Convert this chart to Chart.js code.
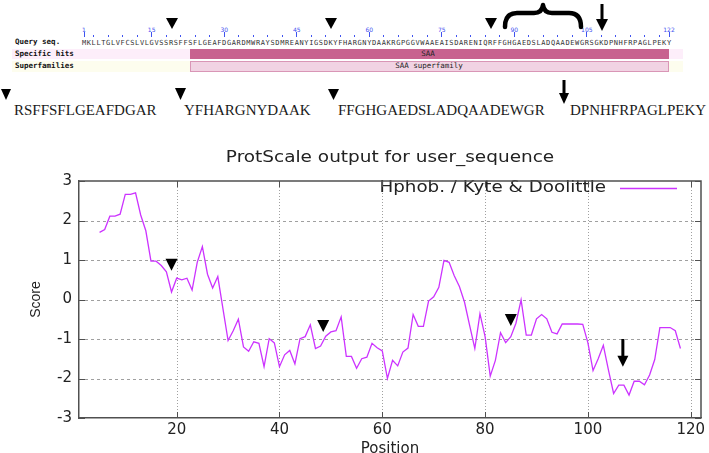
<!DOCTYPE html>
<html>
<head>
<meta charset="utf-8">
<script src="https://cdn.jsdelivr.net/npm/chart.js@4.4.1/dist/chart.umd.min.js"></script>
<style>
  html, body { margin: 0; padding: 0; background: #fff; }
  body { width: 709px; height: 453px; overflow: hidden; position: relative; }
  .abs { position: absolute; white-space: pre; }
  .rowlbl { font: bold 7.5px "DejaVu Sans Mono", monospace; color: #111; line-height: 10px; }
  .res { font: 7px "DejaVu Sans Mono", monospace; color: #333; width: 6px; text-align: center; line-height: 8px; }
  .rnum { font: 6px "DejaVu Sans", sans-serif; color: #3f52f0; width: 20px; text-align: center; line-height: 7px; }
  .rtick { background: #3f52f0; width: 1px; }
  .hitlbl { font: 7.5px "DejaVu Sans Mono", monospace; color: #222; line-height: 10px; text-align: center; }
  .pep { font: 15px "Liberation Serif", "Times New Roman", serif; color: #1a1a1a; line-height: 16px; }
  #chartBox { position: absolute; left: 0; top: 140px; width: 709px; height: 318px; }
</style>
</head>
<body>
<div id="cdd"></div>
<svg class="abs" width="709" height="140" style="left:0;top:0">
  <!-- arrows over the conserved-domain graphic -->
  <polygon points="166,18 178,18 172,29" fill="#000"/>
  <polygon points="325,18 337,18 331,29" fill="#000"/>
  <polygon points="485,18 497,18 491,29" fill="#000"/>
  <path d="M505,27 Q505,13 517,13 L534,13 Q542,13 543,5 Q544,13 552,13 L569,13 Q581,13 581,27"
        fill="none" stroke="#000" stroke-width="4.5" stroke-linecap="round" stroke-linejoin="round"/>
  <rect x="600.5" y="4" width="3" height="17" fill="#000"/>
  <polygon points="596,19 608,19 602,31" fill="#000"/>
  <!-- arrows over the peptide list -->
  <polygon points="1,89 11,89 6,100" fill="#000"/>
  <polygon points="175,88 186,88 180.5,100" fill="#000"/>
  <polygon points="328,89 339,89 333.5,100" fill="#000"/>
  <rect x="562.5" y="80" width="3" height="15" fill="#000"/>
  <polygon points="559,93 569,93 564,104" fill="#000"/>
</svg>
<div id="peptides"></div>
<div id="chartBox"><canvas id="protChart"></canvas></div>
<script>
// query sequence shown in the domain graphic
const querySequence = "MKLLTGLVFCSLVLGVSSRSFFSFLGEAFDGARDMWRAYSDMREANYIGSDKYFHARGNYDAAKRGPGGVWAAEAISDARENIQRFFGHGAEDSLADQAADEWGRSGKDPNHFRPAGLPEKY";
const rulerLabels = [1, 15, 30, 45, 60, 75, 90, 105, 122];
const hitRows = ["Specific hits", "Superfamilies"];
const domainNames = ["SAA", "SAA superfamily"];
const peptides = ["RSFFSFLGEAFDGAR", "YFHARGNYDAAK", "FFGHGAEDSLADQAADEWGR", "DPNHFRPAGLPEKY"];

// ProtScale Kyte & Doolittle scores, window 9, first point at position 5
const firstPosition = 5;
const hydropathy = [
   1.70,  1.77,  2.11,  2.11,  2.16,  2.66,  2.66,  2.70,  2.14,  1.74,
   0.97,  0.97,  0.86,  0.70,  0.19,  0.54,  0.50,  0.54,  0.24,  0.94,
   1.34,  0.64,  0.29,  0.58, -0.23, -1.04, -0.79, -0.50, -1.20, -1.31,
  -1.07, -1.11, -1.70, -0.99, -1.10, -1.70, -1.40, -1.29, -1.63, -0.99,
  -0.94, -0.64, -1.24, -1.18, -0.93, -0.82, -0.79, -0.44, -1.44, -1.44,
  -1.74, -1.50, -1.46, -1.11, -1.22, -1.30, -2.00, -1.54, -1.68, -1.33,
  -1.23, -0.38, -0.68, -0.68, -0.04,  0.07,  0.31,  0.99,  0.94,  0.60,
   0.33, -0.07, -0.66, -1.24, -0.36, -0.94, -1.94, -1.54, -0.84, -1.09,
  -0.94, -0.60, -0.01, -0.90, -0.90, -0.49, -0.38, -0.49, -0.83, -0.87,
  -0.62, -0.62, -0.62, -0.62, -0.63, -1.10, -1.80, -1.50, -1.16, -1.79,
  -2.38, -2.17, -2.17, -2.42, -2.07, -2.07, -2.16, -1.91, -1.52, -0.71,
  -0.71, -0.71, -0.79, -1.24
];
const xTicks = [20, 40, 60, 80, 100, 120];
const yTicks = [-3, -2, -1, 0, 1, 2, 3];
const seriesLabel = "Hphob. / Kyte & Doolittle";
const chartTitle = "ProtScale output for user_sequence";
// cleavage-site arrows drawn on the plot (data coordinates)
const plotMarkers = [
  { x: 19, y: 0.88, kind: "head" },
  { x: 48.5, y: -0.67, kind: "head" },
  { x: 85, y: -0.52, kind: "head" },
  { x: 106.8, y: -1.0, to: -1.7, kind: "arrow" }
];

// ---------- domain graphic (html) ----------
const cdd = document.getElementById("cdd");
const resX = p => 84 + (p - 1) * 4.835;

function addDiv(cls, text, style) {
  const d = document.createElement("div");
  d.className = "abs " + cls;
  d.textContent = text;
  Object.assign(d.style, style);
  cdd.appendChild(d);
  return d;
}

// row backgrounds and domain bars
addDiv("", "", { left: "12px", top: "49px", width: "671px", height: "10px", background: "#fdeefa" });
addDiv("", "", { left: "12px", top: "61px", width: "671px", height: "11px", background: "#fdfdee" });
addDiv("", "", { left: "190px", top: "49px", width: "479px", height: "10px", background: "#c8628f" });
addDiv("", "", { left: "190px", top: "61px", width: "479px", height: "11px", background: "#f1d3e3",
                 border: "1px solid #d996b6", boxSizing: "border-box" });
addDiv("hitlbl", domainNames[0], { left: "328px", top: "49px", width: "200px" });
addDiv("hitlbl", domainNames[1], { left: "329px", top: "61px", width: "200px" });

addDiv("rowlbl", "Query seq.", { left: "15px", top: "37px" });
hitRows.forEach((t, i) => addDiv("rowlbl", t, { left: "15px", top: (i ? 61 : 49) + "px" }));

// ruler
for (let p = 1; p <= querySequence.length; p++) {
  const labelled = rulerLabels.includes(p);
  if (labelled || p % 3 === 0) {
    addDiv("rtick", "", { left: (resX(p) - 0.5) + "px", top: (labelled ? 32 : 35) + "px", height: (labelled ? 5 : 2) + "px" });
  }
}
rulerLabels.forEach(p => addDiv("rnum", String(p), { left: (resX(p) - 10) + "px", top: "26px" }));

// sequence letters
querySequence.split("").forEach((c, i) => addDiv("res", c, { left: (resX(i + 1) - 3) + "px", top: "39px" }));

// ---------- peptide list ----------
const pepBox = document.getElementById("peptides");
const pepLeft = [14, 184, 338, 570];
peptides.forEach((t, i) => {
  const s = document.createElement("div");
  s.className = "abs pep";
  s.textContent = t;
  s.style.left = pepLeft[i] + "px";
  s.style.top = "102px";
  pepBox.appendChild(s);
});

// ---------- ProtScale chart ----------
const tickFont = { family: "DejaVu Sans", size: 15 };
const frameColor = "#505050";

function wideText(ctx, text, x, y, align, stretch) {
  ctx.save();
  ctx.translate(x, y);
  ctx.scale(stretch, 1);
  ctx.textAlign = align;
  ctx.textBaseline = "middle";
  ctx.fillText(text, 0, 0);
  ctx.restore();
}

// gnuplot style grid: dotted verticals, dashed horizontals
function drawGrid(chart) {
  const { ctx, chartArea: a, scales: { x, y } } = chart;
  ctx.save();
  ctx.strokeStyle = "#a0a0a0";
  ctx.lineWidth = 1;
  ctx.setLineDash([1, 2]);
  xTicks.forEach(v => {
    const px = Math.round(x.getPixelForValue(v)) + 0.5;
    ctx.beginPath(); ctx.moveTo(px, a.top); ctx.lineTo(px, a.bottom); ctx.stroke();
  });
  ctx.setLineDash([3, 3]);
  yTicks.slice(1, -1).forEach(v => {
    const py = Math.round(y.getPixelForValue(v)) + 0.5;
    ctx.beginPath(); ctx.moveTo(a.left, py); ctx.lineTo(a.right, py); ctx.stroke();
  });
  ctx.restore();
}

// top and right edges plus inward ticks on every side
function drawEdges(chart) {
  const { ctx, chartArea: a, scales: { x, y } } = chart;
  ctx.save();
  ctx.strokeStyle = frameColor;
  ctx.lineWidth = 1.5;
  ctx.beginPath();
  ctx.moveTo(a.left, a.top);
  ctx.lineTo(a.right, a.top);
  ctx.lineTo(a.right, a.bottom);
  ctx.stroke();
  ctx.lineWidth = 1;
  xTicks.forEach(v => {
    const px = Math.round(x.getPixelForValue(v)) + 0.5;
    ctx.beginPath(); ctx.moveTo(px, a.top); ctx.lineTo(px, a.top + 6); ctx.stroke();
    ctx.beginPath(); ctx.moveTo(px, a.bottom); ctx.lineTo(px, a.bottom - 6); ctx.stroke();
  });
  yTicks.forEach(v => {
    const py = Math.round(y.getPixelForValue(v)) + 0.5;
    ctx.beginPath(); ctx.moveTo(a.right, py); ctx.lineTo(a.right - 6, py); ctx.stroke();
    ctx.beginPath(); ctx.moveTo(a.left, py); ctx.lineTo(a.left + 6, py); ctx.stroke();
  });
  ctx.restore();
}

function drawMarkers(chart) {
  const { ctx, scales: { x, y } } = chart;
  ctx.save();
  ctx.fillStyle = "#000";
  plotMarkers.forEach(m => {
    const px = x.getPixelForValue(m.x);
    if (m.kind === "head") {
      const py = y.getPixelForValue(m.y);
      ctx.beginPath();
      ctx.moveTo(px - 6, py - 6);
      ctx.lineTo(px + 6, py - 6);
      ctx.lineTo(px, py + 6);
      ctx.closePath();
      ctx.fill();
    } else {
      const y1 = y.getPixelForValue(m.y);
      const y2 = y.getPixelForValue(m.to);
      ctx.fillRect(px - 1.5, y1, 3, y2 - y1 - 9);
      ctx.beginPath();
      ctx.moveTo(px - 5.5, y2 - 11);
      ctx.lineTo(px + 5.5, y2 - 11);
      ctx.lineTo(px, y2);
      ctx.closePath();
      ctx.fill();
    }
  });
  ctx.restore();
}

function drawTitleAndKey(chart) {
  const { ctx, chartArea: a } = chart;
  const ds = chart.data.datasets[0];
  ctx.save();
  ctx.font = "15px 'DejaVu Sans'";
  ctx.fillStyle = "#222";
  wideText(ctx, chartTitle, (a.left + a.right) / 2, 18, "center", 1.23);
  const yk = a.top + 7;
  wideText(ctx, ds.label, a.right - 95, yk, "right", 1.22);
  ctx.strokeStyle = ds.borderColor;
  ctx.lineWidth = 1.3;
  ctx.beginPath();
  ctx.moveTo(a.right - 81, yk + 0.5);
  ctx.lineTo(a.right - 24, yk + 0.5);
  ctx.stroke();
  ctx.restore();
}

const decorPlugin = {
  id: "protDecor",
  beforeDatasetsDraw(chart) { drawGrid(chart); },
  afterDatasetsDraw(chart) { drawMarkers(chart); },
  afterDraw(chart) { drawTitleAndKey(chart); drawEdges(chart); }
};

new Chart(document.getElementById("protChart"), {
  type: "line",
  data: {
    datasets: [{
      label: seriesLabel,
      data: hydropathy.map((v, i) => ({ x: firstPosition + i, y: v })),
      borderColor: "#cc33ff",
      borderWidth: 1.3,
      pointRadius: 0,
      tension: 0,
      fill: false
    }]
  },
  options: {
    responsive: true,
    maintainAspectRatio: false,
    animation: false,
    layout: { padding: { left: 0, right: 8, top: 41, bottom: 0 } },
    plugins: {
      legend: { display: false },
      tooltip: { enabled: false },
      title: { display: false }
    },
    scales: {
      x: {
        type: "linear",
        min: 1,
        max: 122,
        afterBuildTicks: axis => { axis.ticks = xTicks.map(v => ({ value: v })); },
        afterFit: scale => { scale.height = 40; },
        grid: { display: true, drawTicks: false, drawOnChartArea: false, color: "rgba(0,0,0,0)" },
        border: { display: true, color: frameColor, width: 1.5 },
        ticks: { font: tickFont, color: "#222", padding: 3, maxRotation: 0 },
        title: { display: true, text: "Position", color: "#222", font: tickFont, padding: { top: 0, bottom: 0 } }
      },
      y: {
        min: -3,
        max: 3,
        afterBuildTicks: axis => { axis.ticks = yTicks.map(v => ({ value: v })); },
        afterFit: scale => { scale.width = 79; },
        grid: { display: false, drawTicks: false },
        border: { display: true, color: frameColor, width: 1.5 },
        ticks: { font: tickFont, color: "#222", padding: 7 },
        title: {
          display: true,
          text: "Score",
          color: "#222",
          font: { family: "'Liberation Sans Narrow', 'Liberation Sans'", size: 14 },
          padding: { top: 28, bottom: 0 }
        }
      }
    }
  },
  plugins: [decorPlugin]
});
</script>
</body>
</html>
